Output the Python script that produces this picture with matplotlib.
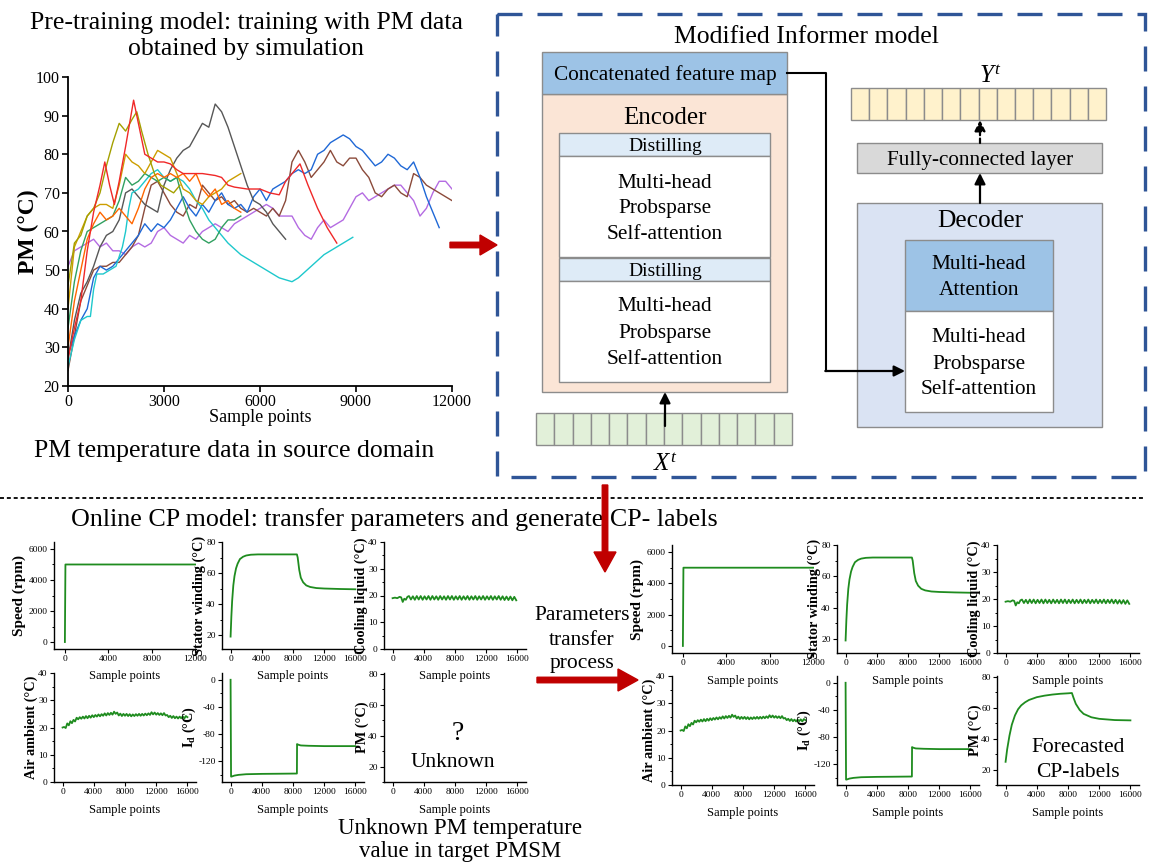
import matplotlib
matplotlib.use("Agg")
import matplotlib.pyplot as plt
from matplotlib.patches import Rectangle, FancyArrow
from matplotlib.ticker import AutoMinorLocator

plt.rcParams['font.family'] = ['Liberation Serif', 'DejaVu Serif']
plt.rcParams['mathtext.fontset'] = 'custom'
plt.rcParams['mathtext.rm'] = 'Liberation Serif'
plt.rcParams['mathtext.it'] = 'Liberation Serif:italic'
plt.rcParams['mathtext.bf'] = 'Liberation Serif:bold'
plt.rcParams['axes.unicode_minus'] = False

# ---------------------------------------------------------------- data
# source-domain PM temperature traces (sample index, degC)
step200 = list(range(0, 12001, 200))

pm_blue_x = list(range(0, 11601, 200))
pm_blue = [28, 33, 37, 40, 48, 51, 50, 51, 53, 55, 57, 59, 62, 60, 62, 61, 63, 66, 69, 66,
           64, 67, 65, 68, 70, 67, 66, 67, 65, 69, 71, 68, 71, 72, 73, 75, 76, 75, 76, 80,
           81, 83, 84, 85, 84, 82, 81, 79, 77, 78, 80, 79, 77, 76, 78, 74, 69, 65, 61]

pm_purple_x = step200
pm_purple = [51, 55, 56, 57, 58, 56, 57, 55, 55, 54, 56, 57, 56, 57, 60, 61, 59, 58, 57, 59,
             58, 60, 61, 62, 61, 60, 62, 63, 64, 65, 66, 67, 66, 64, 64, 64, 61, 59, 58, 61,
             63, 61, 62, 63, 66, 69, 70, 68, 69, 70, 71, 72, 72, 70, 68, 64, 66, 70, 73, 73, 71]

pm_brown_x = step200
pm_brown = [24, 33, 42, 46, 50, 51, 51, 52, 52, 54, 56, 59, 66, 72, 73, 70, 67, 65, 64, 67,
            66, 72, 70, 68, 69, 67, 68, 66, 65, 66, 65, 64, 66, 64, 68, 78, 81, 78, 74, 76,
            78, 81, 78, 77, 79, 79, 76, 74, 70, 69, 71, 72, 70, 69, 75, 74, 72, 71, 70, 69, 68]

pm_gray_x = list(range(0, 6801, 200))
pm_gray = [27, 37, 44, 47, 51, 56, 59, 60, 63, 70, 71, 69, 67, 66, 65, 72, 76, 79, 81, 82,
           85, 88, 87, 93, 91, 87, 82, 77, 72, 68, 67, 65, 62, 60, 58]

pm_cyan_x = [0, 200, 400, 600, 700, 800, 900, 1100, 1300, 1500, 1700, 1800, 1900, 2000, 2200,
             2400, 2600, 2800, 3000, 3200, 3400, 3600, 3800, 4000, 4200, 4400, 4600, 4800, 5000,
             5400, 5800, 6200, 6600, 7000, 7200, 7600, 8000, 8400, 8800, 8900]
pm_cyan = [25, 32, 37, 38, 38, 45, 49, 49, 50, 51, 56, 60, 66, 70, 71, 73, 75, 76, 74, 73,
           74, 73, 71, 68, 66, 63, 61, 59, 57, 54, 52, 50, 48, 47, 48, 51, 54, 56, 58, 58.5]

pm_green_x = list(range(0, 5401, 200))
pm_green = [35, 47, 55, 60, 61, 62, 63, 64, 68, 74, 72, 73, 75, 74, 73, 74, 73, 74, 68, 63,
            60, 58, 57, 58, 61, 63, 63, 64]

pm_orange_x = list(range(0, 5401, 200))
pm_orange = [30, 42, 50, 58, 62, 65, 63, 64, 66, 64, 62, 66, 71, 74, 75, 74, 75, 74, 75, 73,
             75, 71, 69, 71, 67, 68, 66, 65]

pm_gold_x = list(range(0, 5401, 200))
pm_gold = [40, 56, 60, 64, 66, 67, 67, 66, 72, 80, 78, 77, 75, 78, 81, 80, 79, 75, 71, 70,
           68, 67, 69, 70, 71, 73, 74, 75]

pm_olive_x = [0, 200, 400, 600, 800, 1000, 1200, 1400, 1600, 1800, 2000, 2150, 2300, 2500,
              2700, 2900, 3100, 3300, 3500]
pm_olive = [46, 57, 59, 64, 66, 70, 77, 83, 88, 86, 89, 91, 86, 80, 75, 72, 71, 70, 72]

pm_red_x = [0, 200, 400, 600, 800, 1000, 1150, 1300, 1450, 1600, 1800, 2050, 2200, 2400, 2600,
            2800, 3000, 3200, 3400, 3600, 3800, 4200, 4600, 4800, 5000, 5200, 5600, 6000, 6300,
            6600, 6800, 7000, 7250, 7500, 7800, 8100, 8400]
pm_red = [27, 35, 42, 55, 65, 72, 78, 72, 67, 73, 82, 94, 88, 80, 79, 78, 78, 77.5, 76, 75,
          75, 75, 74.5, 74, 72, 71.5, 71, 71, 70, 69.5, 73, 75, 77.5, 72, 66, 61, 57]

pm_series = [
    (pm_purple_x, pm_purple, '#b46be2'),
    (pm_brown_x, pm_brown, '#8b4a3a'),
    (pm_blue_x, pm_blue, '#1f68d6'),
    (pm_gray_x, pm_gray, '#575757'),
    (pm_cyan_x, pm_cyan, '#1ec8cc'),
    (pm_green_x, pm_green, '#30a060'),
    (pm_gold_x, pm_gold, '#cc9e00'),
    (pm_orange_x, pm_orange, '#ff6600'),
    (pm_olive_x, pm_olive, '#a4a000'),
    (pm_red_x, pm_red, '#f02828'),
]

# target-domain operating profile
speed_x = [0, 50, 12000]
speed_y = [0, 5000, 5000]

stator_x = [0, 100, 200, 350, 500, 700, 900, 1200, 1600, 2000, 2600, 3500, 5000, 7000, 8500,
            8600, 8800, 9000, 9300, 9700, 10200, 11000, 12000, 14000, 16000]
stator_y = [19, 32, 42, 52, 58, 63, 66, 69, 70.5, 71.3, 71.8, 72, 72, 72, 72, 70, 62, 57, 54,
            52, 51, 50.3, 50, 49.7, 49.5]

cool_x = [0, 300, 600, 900, 1100, 1300, 1500, 1700, 1900] + list(range(2100, 16001, 250))
cool_y = [19.0, 19.2, 19.0, 19.5, 19.3, 17.6, 18.8, 18.4, 19.5,
          19.8, 18.5, 19.7, 18.4, 19.8, 18.5, 19.8, 18.4, 19.7, 18.5, 19.8, 18.4,
          19.8, 18.5, 19.7, 18.4, 19.8, 18.5, 19.7, 18.4, 19.8, 18.5, 19.8, 18.4,
          19.7, 18.5, 19.8, 18.4, 19.7, 18.5, 19.8, 18.4, 19.7, 18.5, 19.8, 18.4,
          19.7, 18.5, 19.8, 18.4, 19.7, 18.5, 19.8, 18.4, 19.7, 18.5, 19.8, 18.4,
          19.7, 18.3, 19.6, 18.3, 19.6, 18.2, 19.5, 18.2]

air_x = list(range(0, 16001, 200))
air_y = [20.0, 20.2, 19.8, 21.5, 20.8, 22.3, 21.6, 22.8, 22.2, 23.6, 23.0, 23.8, 23.2, 24.0,
         23.3, 24.2, 23.4, 24.3, 23.6, 24.5, 23.8, 24.6, 24.0, 24.8, 24.1, 24.9, 24.3, 25.2,
         24.4, 25.3, 24.6, 25.4, 24.7, 25.8, 25.0, 25.5, 24.4, 25.1, 24.2, 25.0, 24.3, 25.0,
         24.2, 24.9, 24.1, 24.8, 24.2, 24.9, 24.3, 25.0, 24.3, 25.0, 24.4, 25.1, 24.5, 25.2,
         24.6, 25.6, 24.8, 25.5, 24.7, 25.3, 24.6, 25.2, 24.5, 25.3, 24.4, 24.6, 23.8, 24.3,
         23.5, 24.2, 23.4, 24.0, 23.3, 24.0, 23.4, 24.1, 23.3, 24.2, 23.8]

id_x = [0, 60, 120, 500, 1000, 2000, 4000, 6000, 8500, 8520, 8700, 9000, 10000, 12000, 16000]
id_y = [0, -143, -143, -141.5, -140.5, -139.5, -139, -138.8, -138.5, -95, -96, -97, -97.5,
        -98, -98]

pm_fc_x = [0, 200, 500, 800, 1200, 1600, 2000, 2500, 3000, 4000, 5000, 6000, 7000, 8000, 8500,
           8700, 9000, 9500, 10000, 11000, 12000, 14000, 16000]
pm_fc_y = [25, 33, 42, 49, 55, 59, 61.5, 63.5, 65, 66.8, 67.8, 68.5, 69, 69.3, 69.5, 66.5,
           62.5, 58.5, 56, 53.8, 52.8, 52, 51.8]

ticks_12k = [0, 4000, 8000, 12000]
ticks_16k = [0, 4000, 8000, 12000, 16000]

# ---------------------------------------------------------------- figure
W, H = 1152, 863
fig = plt.figure(figsize=(W / 100, H / 100), dpi=100)


def px_axes(x0, y0, x1, y1):
    return fig.add_axes([x0 / W, 1 - y1 / H, (x1 - x0) / W, (y1 - y0) / H])


cv = fig.add_axes([0, 0, 1, 1])
cv.set_xlim(0, W)
cv.set_ylim(H, 0)
cv.axis('off')

RED = '#c00000'
GREEN = '#1f8c1f'
EDGE = '#8c8c8c'


def txt(x, y, s, size, **kw):
    kw.setdefault('ha', 'center')
    kw.setdefault('va', 'baseline')
    cv.text(x, y, s, fontsize=size, **kw)


def box(x0, y0, x1, y1, fc, ec=EDGE, lw=1.0, z=1):
    cv.add_patch(Rectangle((x0, y0), x1 - x0, y1 - y0, fc=fc, ec=ec, lw=lw, zorder=z))


def cells(x0, y0, x1, y1, n, fc):
    w = (x1 - x0) / n
    for i in range(n):
        box(x0 + i * w, y0, x0 + (i + 1) * w, y1, fc, z=2)


def black_arrow(x0, y0, x1, y1, ls='-'):
    cv.annotate('', xy=(x1, y1), xytext=(x0, y0),
                arrowprops=dict(arrowstyle='-|>', color='k', lw=1.6, linestyle=ls,
                                mutation_scale=16, shrinkA=0, shrinkB=0), zorder=5)


def red_arrow(x0, y0, x1, y1, hw=20, hl=17):
    cv.add_patch(FancyArrow(x0, y0, x1 - x0, y1 - y0, width=5.5, head_width=hw, head_length=hl,
                            length_includes_head=True, color=RED, zorder=6))


# ------------------------------------------------ top-left: source-domain chart
txt(246, 29, 'Pre-training model: training with PM data', 18.5)
txt(246, 55, 'obtained by simulation', 18.5)
txt(234, 457, 'PM temperature data in source domain', 18.5)

ax = px_axes(68, 77, 452, 386)
ax.set_facecolor('none')
for xs, ys, c in pm_series:
    ax.plot(xs, ys, color=c, lw=1.0)
ax.set_xlim(0, 12000)
ax.set_ylim(20, 100)
ax.set_xticks([0, 3000, 6000, 9000, 12000])
ax.set_yticks(range(20, 101, 10))
for s in ('top', 'right'):
    ax.spines[s].set_visible(False)
for s in ('left', 'bottom'):
    ax.spines[s].set_linewidth(1.3)
ax.tick_params(direction='out', length=4, width=1.2, labelsize=11.5, pad=2)
ax.set_xlabel('Sample points', fontsize=13)
ax.xaxis.set_label_coords(0.5, -0.075)
ax.set_ylabel('PM (°C)', fontsize=17, fontweight='bold')
ax.yaxis.set_label_coords(-0.075, 0.5)

red_arrow(450, 245, 497, 245)

# ------------------------------------------------ Informer block
cv.add_patch(Rectangle((497, 14), 1145 - 497, 477 - 14, fill=False, ec='#2f5597', lw=2.4,
                       linestyle=(0, (7.5, 4.5)), zorder=3))
txt(806, 43, 'Modified Informer model', 18.5)

box(542, 94, 787, 392, '#fbe5d6')
box(542, 52, 787, 94, '#9dc3e6')
txt(665, 80, 'Concatenated feature map', 15.3)
txt(665, 124, 'Encoder', 18)
for top, lines in ((133, (188, 213, 239)), (258, (311, 338, 364))):
    box(559, top, 770, top + 23, '#deebf7', z=2)
    box(559, top + 23, 770, top + 124, 'white', z=2)
    txt(665, top + 18, 'Distilling', 14)
    for yb, s in zip(lines, ('Multi-head', 'Probsparse', 'Self-attention')):
        txt(665, yb, s, 15.3, zorder=3)

cells(536, 413, 792, 445, 14, '#e2f0d9')
black_arrow(665, 426, 665, 392)
txt(665, 471, r'$X^{t}$', 18)

cells(851, 88, 1106, 120, 14, '#fff2cc')
txt(990, 83, r'$Y^{t}$', 18)
box(857, 143, 1102, 173, '#d9d9d9')
txt(980, 165, 'Fully-connected layer', 15.3)
box(857, 203, 1102, 427, '#dae3f3')
txt(980, 227, 'Decoder', 18.3)
box(905, 240, 1053, 311, '#9dc3e6', z=2)
box(905, 311, 1053, 412, 'white', z=2)
for yb, s in zip((269, 295), ('Multi-head', 'Attention')):
    txt(979, yb, s, 15.3, zorder=3)
for yb, s in zip((342, 369, 394), ('Multi-head', 'Probsparse', 'Self-attention')):
    txt(979, yb, s, 15.3, zorder=3)

black_arrow(980, 203, 980, 173)
black_arrow(980, 143, 980, 120, ls=(0, (2, 1.5)))
cv.plot([787, 826, 826], [73, 73, 371], color='k', lw=1.5, zorder=4)
black_arrow(825.3, 371, 905, 371)

# ------------------------------------------------ lower half
cv.plot([0, 1145], [498, 498], color='k', lw=1.3, linestyle=(0, (2.2, 1.6)))
txt(394, 526, 'Online CP model: transfer parameters and generate CP- labels', 18.7)
red_arrow(605, 485, 605, 572, hw=22, hl=20)
txt(582, 620, 'Parameters', 15.5)
txt(582, 645, 'transfer', 15.5)
txt(582, 668, 'process', 15.5)
red_arrow(537, 680, 638, 680, hw=22, hl=20)
txt(460, 834, 'Unknown PM temperature', 16.5)
txt(460, 857, 'value in target PMSM', 16.5)


def small_axes(box_px, xs, ys, xlim, xticks, ylim, yticks, ylabel, lab_off, lab_size=10.3):
    a = px_axes(*box_px)
    a.set_facecolor('none')
    if xs is not None:
        a.plot(xs, ys, color=GREEN, lw=1.3)
    a.set_xlim(*xlim)
    a.set_ylim(*ylim)
    a.set_xticks(xticks)
    a.set_yticks(yticks)
    a.yaxis.set_minor_locator(AutoMinorLocator(2))
    for s in ('top', 'right'):
        a.spines[s].set_visible(False)
    for s in ('left', 'bottom'):
        a.spines[s].set_linewidth(1.0)
    a.tick_params(which='major', direction='out', length=3, width=0.8, labelsize=6.8, pad=1.5)
    a.tick_params(which='minor', direction='out', length=1.8, width=0.7)
    a.set_xlabel('Sample points', fontsize=9)
    a.xaxis.set_label_coords(0.5, -0.2)
    a.set_ylabel(ylabel, fontsize=lab_size, fontweight='bold')
    h = box_px[2] - box_px[0]
    a.yaxis.set_label_coords(-lab_off / h, 0.5)
    return a


XL12 = (-1000, 12050)
XL16 = (-1100, 17100)
ID_LABEL = r'$\mathbf{I}_{\mathbf{d}}$ (°C)'


def profile_group(cols, row_y, with_pm):
    (c1, c2, c3), ((t1, b1), (t2, b2)) = cols, row_y
    small_axes((c1, t1, c1 + 142, b1), speed_x, speed_y, XL12, ticks_12k, (-450, 6450),
               [0, 2000, 4000, 6000], 'Speed (rpm)', 28, 11)
    small_axes((c2, t1, c2 + 142, b1), stator_x, stator_y, XL16, ticks_16k, (11, 80),
               [20, 40, 60, 80], 'Stator winding (°C)', 16)
    small_axes((c3, t1, c3 + 142, b1), cool_x, cool_y, XL16, ticks_16k, (0, 40),
               [0, 10, 20, 30, 40], 'Cooling liquid (°C)', 16)
    small_axes((c1, t2, c1 + 142, b2), air_x, air_y, XL16, ticks_16k, (0, 40),
               [0, 10, 20, 30, 40], 'Air ambient (°C)', 16)
    small_axes((c2, t2, c2 + 142, b2), id_x, id_y, XL16, ticks_16k, (-151, 10),
               [-120, -80, -40, 0], ID_LABEL, 24)
    if with_pm:
        small_axes((c3, t2, c3 + 142, b2), pm_fc_x, pm_fc_y, XL16, ticks_16k, (10, 80.5),
                   [20, 40, 60, 80], 'PM (°C)', 15)
    else:
        small_axes((c3, t2, c3 + 142, b2), None, None, XL16, ticks_16k, (10, 80.5),
                   [20, 40, 60, 80], 'PM (°C)', 15)


profile_group((54, 222, 384), ((542, 649), (673, 782)), with_pm=False)
profile_group((672, 837, 997), ((545, 653), (676, 785)), with_pm=True)

txt(458, 740, '?', 20)
txt(453, 767, 'Unknown', 15.5)
txt(1078, 752, 'Forecasted', 15.5)
txt(1078, 777, 'CP-labels', 15.5)

fig.savefig('out.png', dpi=100)
